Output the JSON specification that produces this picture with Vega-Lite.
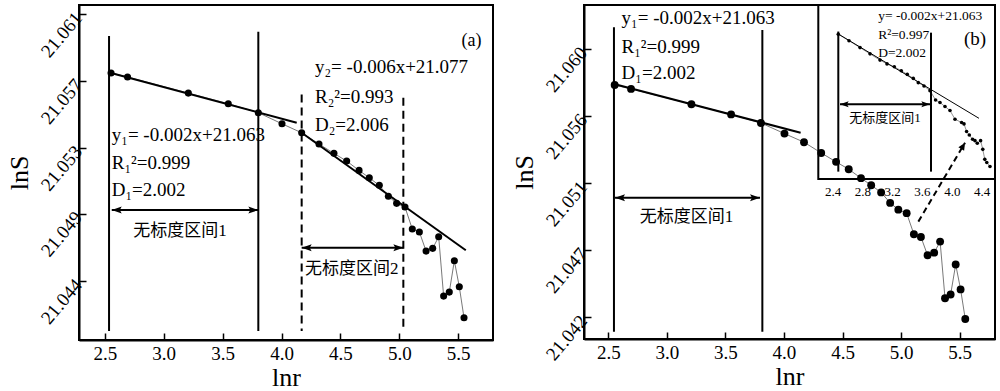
{
 "$schema": "https://vega.github.io/schema/vega-lite/v6.json",
 "background": "white",
 "padding": {"left": 5, "top": 3, "right": 2, "bottom": 0},
 "spacing": 16,
 "config": {
   "font": "Liberation Serif",
   "view": {"stroke": "black", "strokeWidth": 2},
   "style": {"guide-label": {"font": "Liberation Serif, serif", "fill": "black"}, "guide-title": {"font": "Liberation Serif, serif", "fill": "black", "fontWeight": "normal"}},
   "axis": {"grid": false, "labelFont": "Liberation Serif, serif", "titleFont": "Liberation Serif, serif", "labelColor": "black", "titleColor": "black", "tickColor": "black", "domainColor": "black", "titleFontWeight": "normal", "labelFontSize": 19, "titleFontSize": 26, "tickSize": -7, "tickWidth": 1.5, "domainWidth": 2}
 },
 "datasets": {
   "pts": [
     {"x":2.553,"y":21.05735},{"x":2.693,"y":21.0571},{"x":3.209,"y":21.0561},{"x":3.548,"y":21.05544},
     {"x":3.803,"y":21.05488},{"x":4.004,"y":21.05419},{"x":4.171,"y":21.05363},{"x":4.318,"y":21.05293},
     {"x":4.445,"y":21.05235},{"x":4.553,"y":21.05187},{"x":4.658,"y":21.05129},{"x":4.745,"y":21.05083},
     {"x":4.83,"y":21.05036},{"x":4.907,"y":21.04968},{"x":4.977,"y":21.04924},{"x":5.048,"y":21.04901},
     {"x":5.11,"y":21.04764},{"x":5.17,"y":21.04746},{"x":5.227,"y":21.04627},{"x":5.283,"y":21.04644},
     {"x":5.334,"y":21.04716},{"x":5.376,"y":21.04347},{"x":5.424,"y":21.04372},{"x":5.467,"y":21.04567},
     {"x":5.509,"y":21.04405},{"x":5.549,"y":21.04212}
   ],
   "ins": [
     {"x":2.4765,"y":21.05804},{"x":2.6201,"y":21.05775},{"x":2.7678,"y":21.05744},{"x":2.902,"y":21.05716},
     {"x":3.0362,"y":21.05688},{"x":3.1302,"y":21.05671},{"x":3.2282,"y":21.05658},{"x":3.3221,"y":21.0564},
     {"x":3.4027,"y":21.05624},{"x":3.4832,"y":21.05606},{"x":3.5503,"y":21.05587},{"x":3.6268,"y":21.05572},
     {"x":3.7074,"y":21.05551},{"x":3.7826,"y":21.05509},{"x":3.8416,"y":21.05498},{"x":3.9087,"y":21.0548},
     {"x":3.9758,"y":21.05462},{"x":4.043,"y":21.05423},{"x":4.1315,"y":21.05408},{"x":4.1638,"y":21.05402},
     {"x":4.1987,"y":21.05368},{"x":4.2349,"y":21.05352},{"x":4.2792,"y":21.05333},{"x":4.3114,"y":21.05327},
     {"x":4.3423,"y":21.05315},{"x":4.3866,"y":21.05327},{"x":4.4161,"y":21.05288},{"x":4.443,"y":21.05243},
     {"x":4.4698,"y":21.05229},{"x":4.5128,"y":21.05211}
   ],
   "solidA": [
     {"x":2.553,"y":21.05735,"x2":4.129,"y2":21.05426},
     {"x":4.171,"y":21.05363,"x2":5.564,"y2":21.04632},
     {"x":2.536,"y":21.05965,"x2":2.536,"y2":21.0413},
     {"x":3.803,"y":21.05992,"x2":3.803,"y2":21.0413},
     {"x":2.559,"y":21.04882,"x2":3.803,"y2":21.04882},
     {"x":4.171,"y":21.04648,"x2":5.034,"y2":21.04648}
   ],
   "dashA": [
     {"x":4.171,"y":21.05602,"x2":4.171,"y2":21.0413},
     {"x":5.034,"y":21.05581,"x2":5.034,"y2":21.0413}
   ],
   "headsA": [
     {"x":2.559,"y":21.04882,"end":"L"},{"x":3.803,"y":21.04882,"end":"R"},
     {"x":4.171,"y":21.04648,"end":"L"},{"x":5.034,"y":21.04648,"end":"R"}
   ],
   "eqA": [
     {"x":4.284,"y":21.05737,"t":"y₂= -0.006x+21.077"},
     {"x":4.284,"y":21.0555,"t":"R₂²=0.993"},
     {"x":4.284,"y":21.05374,"t":"D₂=2.006"},
     {"x":2.559,"y":21.05312,"t":"y₁= -0.002x+21.063"},
     {"x":2.559,"y":21.05136,"t":"R₁²=0.999"},
     {"x":2.559,"y":21.04969,"t":"D₁=2.002"}
   ],
   "cnA": [
     {"x":3.138,"y":21.04752,"t":"无标度区间1"},
     {"x":4.596,"y":21.04513,"t":"无标度区间2"}
   ],
   "labA": [{"x":5.613,"y":21.05903,"t":"(a)"}],
   "solidB": [
     {"x":2.556,"y":21.0574,"x2":4.142,"y2":21.05425},
     {"x":2.547,"y":21.06111,"x2":2.547,"y2":21.0413},
     {"x":3.815,"y":21.06093,"x2":3.815,"y2":21.0413},
     {"x":2.556,"y":21.05002,"x2":3.795,"y2":21.05002}
   ],
   "headsB": [
     {"x":2.556,"y":21.05002,"end":"L"},{"x":3.795,"y":21.05002,"end":"R"}
   ],
   "dashB": [{"x":5.148,"y":21.04846,"x2":5.547,"y2":21.0536}],
   "tipB": [{"x":5.547,"y":21.0536}],
   "eqB": [
     {"x":2.612,"y":21.06132,"t":"y₁= -0.002x+21.063"},
     {"x":2.612,"y":21.05946,"t":"R₁²=0.999"},
     {"x":2.612,"y":21.05772,"t":"D₁=2.002"}
   ],
   "cnB": [{"x":3.1675,"y":21.04878,"t":"无标度区间1"}],
   "labB": [{"x":5.6325,"y":21.05995,"t":"(b)"}],
   "frameI": [{"x":2.208,"y":21.05155,"x2":4.58,"y2":21.05935}],
   "fitI": [{"x":2.4765,"y":21.05805,"x2":4.3651,"y2":21.05427}],
   "solidI": [
     {"x":2.4765,"y":21.05816,"x2":2.4765,"y2":21.05188},
     {"x":3.7208,"y":21.05811,"x2":3.7208,"y2":21.05188},
     {"x":2.4993,"y":21.0549,"x2":3.7074,"y2":21.0549}
   ],
   "headsI": [
     {"x":2.4993,"y":21.0549,"end":"L"},{"x":3.7074,"y":21.0549,"end":"R"}
   ],
   "eqI": [
     {"x":3.012,"y":21.05868,"t":"y= -0.002x+21.063"},
     {"x":3.012,"y":21.05781,"t":"R²=0.997"},
     {"x":3.012,"y":21.05704,"t":"D=2.002"}
   ],
   "cnI": [{"x":3.1034,"y":21.05427,"t":"无标度区间1"}]
 },
 "hconcat": [
  {
   "width": 414, "height": 335,
   "encoding": {
     "x": {"field":"x","type":"quantitative","scale":{"domain":[2.281,5.795],"nice":false,"zero":false},
           "axis":{"orient":"bottom","values":[2.5,3,3.5,4,4.5,5,5.5],"format":".1f","title":"lnr","labelFont":"Liberation Serif, serif","titleFont":"Liberation Serif, serif","labelPadding":11,"titlePadding":1,"labelAngle":0}},
     "y": {"field":"y","type":"quantitative","scale":{"domain":[21.04074,21.06158],"nice":false,"zero":false},
           "axis":{"orient":"left","values":[21.0444,21.0486,21.0527,21.05685,21.061],"format":".3f","title":"lnS","labelFont":"Liberation Serif, serif","titleFont":"Liberation Serif, serif","labelAngle":-50,"labelAlign":"right","labelBaseline":"middle","labelPadding":8,"titlePadding":5}}
   },
   "layer": [
     {"data":{"name":"pts"},"mark":{"type":"line","color":"#555","strokeWidth":0.8}},
     {"data":{"name":"pts"},"mark":{"type":"point","filled":true,"color":"black","opacity":1,"size":50}},
     {"data":{"name":"solidA"},"mark":{"type":"rule","color":"black","strokeWidth":2},"encoding":{"x2":{"field":"x2"},"y2":{"field":"y2"}}},
     {"data":{"name":"dashA"},"mark":{"type":"rule","color":"black","strokeWidth":2,"strokeDash":[8,5]},"encoding":{"x2":{"field":"x2"},"y2":{"field":"y2"}}},
     {"data":{"name":"headsA"},"mark":{"type":"point","filled":true,"color":"black","opacity":1,"strokeWidth":0},
      "encoding":{"shape":{"field":"end","type":"nominal","scale":{"domain":["L","R"],"range":["M0,0L1,-0.35L0.8,0L1,0.35Z","M0,0L-1,-0.35L-0.8,0L-1,0.35Z"]},"legend":null},"size":{"value":400}}},
     {"data":{"name":"eqA"},"mark":{"type":"text","align":"left","baseline":"alphabetic","fontSize":19,"font":"Liberation Serif, serif","color":"black"},"encoding":{"text":{"field":"t"}}},
     {"data":{"name":"cnA"},"mark":{"type":"text","align":"center","baseline":"middle","fontSize":17,"font":"Liberation Serif, Noto Sans CJK SC","color":"black"},"encoding":{"text":{"field":"t"}}},
     {"data":{"name":"labA"},"mark":{"type":"text","align":"center","baseline":"alphabetic","fontSize":18,"font":"Liberation Serif, serif","color":"black"},"encoding":{"text":{"field":"t"}}}
   ]
  },
  {
   "width": 411, "height": 334,
   "resolve": {"scale":{"x":"independent","y":"independent"},"axis":{"x":"independent","y":"independent"}},
   "layer": [
    {
     "encoding": {
       "x": {"field":"x","type":"quantitative","scale":{"domain":[2.291,5.803],"nice":false,"zero":false},
             "axis":{"orient":"bottom","values":[2.5,3,3.5,4,4.5,5,5.5],"format":".1f","title":"lnr","labelFont":"Liberation Serif, serif","titleFont":"Liberation Serif, serif","labelPadding":11,"titlePadding":1,"labelAngle":0}},
       "y": {"field":"y","type":"quantitative","scale":{"domain":[21.04082,21.06256],"nice":false,"zero":false},
             "axis":{"orient":"left","values":[21.04223,21.04661,21.05095,21.05533,21.05969],"labelExpr":"format(datum.value+0.0002,'.3f')","title":"lnS","labelFont":"Liberation Serif, serif","titleFont":"Liberation Serif, serif","labelAngle":-50,"labelAlign":"right","labelBaseline":"middle","labelPadding":8,"titlePadding":5}}
     },
     "layer": [
       {"data":{"name":"pts"},"mark":{"type":"line","color":"#555","strokeWidth":0.8}},
       {"data":{"name":"pts"},"mark":{"type":"point","filled":true,"color":"black","opacity":1,"size":62}},
       {"data":{"name":"solidB"},"mark":{"type":"rule","color":"black","strokeWidth":2},"encoding":{"x2":{"field":"x2"},"y2":{"field":"y2"}}},
       {"data":{"name":"dashB"},"mark":{"type":"rule","color":"black","strokeWidth":2,"strokeDash":[6,4]},"encoding":{"x2":{"field":"x2"},"y2":{"field":"y2"}}},
       {"data":{"name":"tipB"},"mark":{"type":"point","filled":true,"color":"black","opacity":1,"strokeWidth":0,"shape":"M0,0L-1,-0.45L-1,0.45Z","angle":300.6,"size":220}},
       {"data":{"name":"headsB"},"mark":{"type":"point","filled":true,"color":"black","opacity":1,"strokeWidth":0},
        "encoding":{"shape":{"field":"end","type":"nominal","scale":{"domain":["L","R"],"range":["M0,0L1,-0.35L0.8,0L1,0.35Z","M0,0L-1,-0.35L-0.8,0L-1,0.35Z"]},"legend":null},"size":{"value":400}}},
       {"data":{"name":"eqB"},"mark":{"type":"text","align":"left","baseline":"alphabetic","fontSize":19,"font":"Liberation Serif, serif","color":"black"},"encoding":{"text":{"field":"t"}}},
       {"data":{"name":"cnB"},"mark":{"type":"text","align":"center","baseline":"middle","fontSize":17,"font":"Liberation Serif, Noto Sans CJK SC","color":"black"},"encoding":{"text":{"field":"t"}}},
       {"data":{"name":"labB"},"mark":{"type":"text","align":"center","baseline":"alphabetic","fontSize":19,"font":"Liberation Serif, serif","color":"black"},"encoding":{"text":{"field":"t"}}}
     ]
    },
    {
     "encoding": {
       "x": {"field":"x","type":"quantitative","scale":{"domain":[2.208,4.58],"range":[234.3,411],"nice":false,"zero":false},
             "axis":{"orient":"bottom","offset":-160,"values":[2.4,2.8,3.2,3.6,4.0,4.4],"format":".1f","title":null,"labelFont":"Liberation Serif, serif","ticks":false,"domain":false,"labelFontSize":13,"labelPadding":6,"labelAngle":0}},
       "y": {"field":"y","type":"quantitative","scale":{"domain":[21.05155,21.05935],"range":[174,0],"nice":false,"zero":false},"axis":null}
     },
     "layer": [
       {"data":{"name":"frameI"},"mark":{"type":"rect","fillOpacity":0,"stroke":"black","strokeWidth":2},"encoding":{"x2":{"field":"x2"},"y2":{"field":"y2"}}},
       {"data":{"name":"ins"},"mark":{"type":"line","color":"#666","strokeWidth":0.7}},
       {"data":{"name":"ins"},"mark":{"type":"point","filled":true,"color":"black","opacity":1,"size":13}},
       {"data":{"name":"fitI"},"mark":{"type":"rule","color":"black","strokeWidth":1},"encoding":{"x2":{"field":"x2"},"y2":{"field":"y2"}}},
       {"data":{"name":"solidI"},"mark":{"type":"rule","color":"black","strokeWidth":2},"encoding":{"x2":{"field":"x2"},"y2":{"field":"y2"}}},
       {"data":{"name":"headsI"},"mark":{"type":"point","filled":true,"color":"black","opacity":1,"strokeWidth":0},
        "encoding":{"shape":{"field":"end","type":"nominal","scale":{"domain":["L","R"],"range":["M0,0L1,-0.35L0.8,0L1,0.35Z","M0,0L-1,-0.35L-0.8,0L-1,0.35Z"]},"legend":null},"size":{"value":300}}},
       {"data":{"name":"eqI"},"mark":{"type":"text","align":"left","baseline":"alphabetic","fontSize":13.5,"font":"Liberation Serif, serif","color":"black"},"encoding":{"text":{"field":"t"}}},
       {"data":{"name":"cnI"},"mark":{"type":"text","align":"center","baseline":"middle","fontSize":13,"font":"Liberation Serif, Noto Sans CJK SC","color":"black"},"encoding":{"text":{"field":"t"}}}
     ]
    }
   ]
  }
 ]
}
